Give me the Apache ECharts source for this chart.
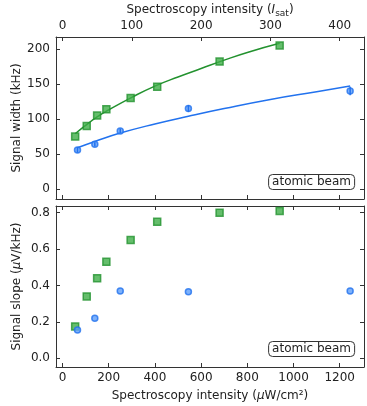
<!DOCTYPE html>
<html>
<head>
<meta charset="utf-8">
<script src="https://cdn.jsdelivr.net/npm/echarts@6/dist/echarts.min.js"></script>
<style>
  html, body { margin: 0; padding: 0; background: #fff; }
  #chart { width: 367px; height: 406px; }
</style>
</head>
<body>
<div id="chart"></div>
<script>
// intensities in uW/cm^2
var greenX = [55, 105, 150, 190, 295, 410, 680, 940];
var greenWidth = [75, 90, 105, 114, 130, 146, 182, 205];
var greenSlope = [0.175, 0.34, 0.44, 0.53, 0.65, 0.75, 0.80, 0.81];

var blueX = [65, 140, 250, 545, 1245];
var blueWidth = [56, 64, 83, 115, 140];
var blueWidthErr = [4, 3, 3, 5, 6];
var blueSlope = [0.155, 0.22, 0.37, 0.365, 0.37];

// fit curves
var greenFitX = [55, 100, 150, 200, 300, 400, 500, 600, 700, 800, 940];
var greenFitY = [79, 91, 103, 113, 131, 147, 160, 172, 184, 195, 208];
var blueFitX = [65, 140, 250, 400, 545, 700, 900, 1100, 1245];
var blueFitY = [59, 68, 80, 93, 104, 115, 128, 139, 147];

var xTicks = [0, 200, 400, 600, 800, 1000, 1200];
var topTicks = [0, 300, 600, 900, 1200]; // 0..400 Isat
var widthTicks = [0, 50, 100, 150, 200];
var slopeTicks = [0, 0.2, 0.4, 0.6, 0.8];

var green = '#23922f', greenFill = '#3fae47';
var blue = '#2272ee', blueFill = '#5c9dfa';
var axisCol = '#333';
var font = 'DejaVu Sans';
var fs = 12;

function zip(a, b) {
    return a.map(function (v, i) { return [v, b[i]]; });
}

function xAx(grid, pos, ticks, showLabel, extra) {
    var ax = {
        type: 'value', gridIndex: grid, position: pos,
        min: -28, max: 1305,
        nameMoveOverlap: false,
        axisLine: { show: true, onZero: false, lineStyle: { color: axisCol, width: 1 } },
        axisTick: { show: true, inside: true, length: 4, customValues: ticks, lineStyle: { color: axisCol } },
        axisLabel: {
            show: showLabel, customValues: ticks, color: '#222', fontSize: fs, fontFamily: font, margin: 5,
            formatter: function (v) { return String(v); }
        },
        splitLine: { show: false }
    };
    return Object.assign(ax, extra || {});
}

function yAx(grid, pos, min, max, ticks, showLabel, extra) {
    var ax = {
        type: 'value', gridIndex: grid, position: pos,
        min: min, max: max,
        nameMoveOverlap: false,
        axisLine: { show: true, onZero: false, lineStyle: { color: axisCol, width: 1 } },
        axisTick: { show: true, inside: true, length: 4, customValues: ticks, lineStyle: { color: axisCol } },
        axisLabel: { show: showLabel, customValues: ticks, color: '#222', fontSize: fs, fontFamily: font, margin: 6 },
        splitLine: { show: false }
    };
    return Object.assign(ax, extra || {});
}

var chart = echarts.init(document.getElementById('chart'));

var errData = blueX.map(function (x, i) { return [x, blueWidth[i], blueWidthErr[i]]; });

var boxStyle = {
    borderColor: '#333', borderWidth: 1, borderRadius: 4, padding: [2, 4],
    textStyle: { fontSize: fs, fontWeight: 'normal', color: '#222', fontFamily: font }
};

chart.setOption({
    animation: false,
    backgroundColor: '#fff',
    grid: [
        { left: 56, top: 37, width: 308, height: 162, outerBoundsMode: 'none', containLabel: false },
        { left: 56, top: 206, width: 308, height: 161, outerBoundsMode: 'none', containLabel: false }
    ],
    title: [
        Object.assign({ text: 'atomic beam', right: 12, top: 174 }, boxStyle),
        Object.assign({ text: 'atomic beam', right: 12, top: 341 }, boxStyle)
    ],
    xAxis: [
        xAx(0, 'bottom', xTicks, false),
        xAx(0, 'top', topTicks, true, {
            name: '{n|Spectroscopy intensity (}{i|I}{s|sat}{n|)}',
            nameLocation: 'middle', nameGap: 19,
            nameTextStyle: {
                rich: {
                    n: { fontSize: fs, fontFamily: font, color: '#222' },
                    i: { fontSize: fs, fontFamily: font, fontStyle: 'italic', color: '#222' },
                    s: { fontSize: 9, fontFamily: font, color: '#222', verticalAlign: 'bottom', padding: [7, 0, 0, 0] }
                }
            },
            axisLabel: {
                show: true, customValues: topTicks, color: '#222', fontSize: fs, fontFamily: font, margin: 5,
                formatter: function (v) { return String(Math.round(v / 3)); }
            }
        }),
        xAx(1, 'bottom', xTicks, true, {
            name: '{n|Spectroscopy intensity (}{i|µ}{n|W/cm²)}',
            nameLocation: 'middle', nameGap: 23,
            nameTextStyle: {
                rich: {
                    n: { fontSize: fs, fontFamily: font, color: '#222' },
                    i: { fontSize: fs, fontFamily: font, fontStyle: 'italic', color: '#222' }
                }
            }
        }),
        xAx(1, 'top', xTicks, false)
    ],
    yAxis: [
        yAx(0, 'left', -14, 217, widthTicks, true, {
            name: 'Signal width (kHz)', nameLocation: 'middle', nameGap: 33,
            nameTextStyle: { fontSize: fs, fontFamily: font, color: '#222' }
        }),
        yAx(0, 'right', -14, 217, widthTicks, false),
        yAx(1, 'left', -0.048, 0.837, slopeTicks, true, {
            name: '{n|Signal slope (}{i|µ}{n|V/kHz)}', nameLocation: 'middle', nameGap: 33,
            nameTextStyle: {
                rich: {
                    n: { fontSize: fs, fontFamily: font, color: '#222' },
                    i: { fontSize: fs, fontFamily: font, fontStyle: 'italic', color: '#222' }
                }
            },
            axisLabel: {
                show: true, customValues: slopeTicks, color: '#222', fontSize: fs, fontFamily: font, margin: 6,
                formatter: function (v) { return v.toFixed(1); }
            }
        }),
        yAx(1, 'right', -0.048, 0.837, slopeTicks, false)
    ],
    series: [
        {
            type: 'line', xAxisIndex: 0, yAxisIndex: 0, data: zip(greenFitX, greenFitY),
            smooth: true, showSymbol: false, lineStyle: { color: green, width: 1.5 }, z: 2
        },
        {
            type: 'line', xAxisIndex: 0, yAxisIndex: 0, data: zip(blueFitX, blueFitY),
            smooth: true, showSymbol: false, lineStyle: { color: blue, width: 1.5 }, z: 2
        },
        {
            type: 'scatter', xAxisIndex: 0, yAxisIndex: 0, data: zip(greenX, greenWidth),
            symbol: 'rect', symbolSize: 7, z: 4,
            itemStyle: { color: greenFill, borderColor: green, borderWidth: 1.5 }
        },
        {
            type: 'scatter', xAxisIndex: 0, yAxisIndex: 0, data: zip(blueX, blueWidth),
            symbol: 'circle', symbolSize: 6, z: 4,
            itemStyle: { color: blueFill, borderColor: blue, borderWidth: 1.5 }
        },
        {
            type: 'custom', xAxisIndex: 0, yAxisIndex: 0, data: errData, z: 5,
            renderItem: function (params, api) {
                var x = api.value(0), y = api.value(1), e = api.value(2);
                var p1 = api.coord([x, y - e]);
                var p2 = api.coord([x, y + e]);
                return {
                    type: 'line',
                    shape: { x1: p1[0], y1: p1[1], x2: p2[0], y2: p2[1] },
                    style: { stroke: blue, lineWidth: 1.5 }
                };
            }
        },
        {
            type: 'scatter', xAxisIndex: 2, yAxisIndex: 2, data: zip(greenX, greenSlope),
            symbol: 'rect', symbolSize: 7, z: 4,
            itemStyle: { color: greenFill, borderColor: green, borderWidth: 1.5 }
        },
        {
            type: 'scatter', xAxisIndex: 2, yAxisIndex: 2, data: zip(blueX, blueSlope),
            symbol: 'circle', symbolSize: 6, z: 4,
            itemStyle: { color: blueFill, borderColor: blue, borderWidth: 1.5 }
        }
    ]
});
</script>
</body>
</html>
